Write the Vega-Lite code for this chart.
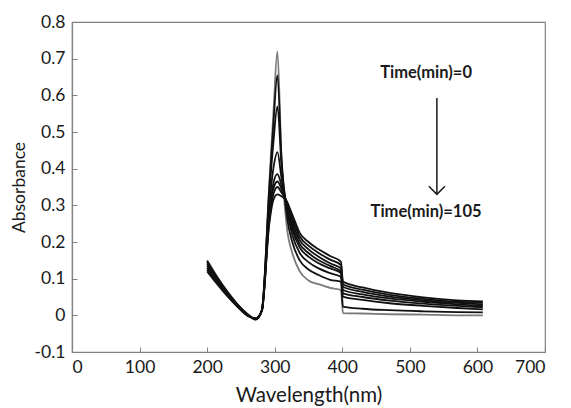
{
  "$schema": "https://vega.github.io/schema/vega-lite/v6.json",
  "width": 473,
  "height": 330,
  "autosize": {"type": "none"},
  "padding": {"left": 72, "top": 22, "right": 26, "bottom": 56},
  "background": "white",
  "config": {
    "locale": {"number": {"decimal": ".", "thousands": ",", "grouping": [3], "currency": ["$", ""], "minus": "-"}},
    "view": {"stroke": "#808080", "strokeWidth": 1.2},
    "font": "Lato",
    "axis": {
      "grid": false,
      "domainColor": "#808080",
      "domainWidth": 1.2,
      "tickColor": "#808080",
      "tickWidth": 1,
      "tickSize": -5,
      "labelFont": "Lato",
      "labelFontSize": 17.5,
      "labelColor": "#1a1a1a",
      "labelOverlap": false,
      "titleFont": "Lato",
      "titleFontWeight": "normal",
      "titleColor": "#1a1a1a"
    }
  },
  "datasets": {
    "spectra": [
      {"t":0,"wl":200,"a":0.15},{"t":0,"wl":215,"a":0.105},{"t":0,"wl":230,"a":0.065},{"t":0,"wl":245,"a":0.03},{"t":0,"wl":260,"a":0.003},{"t":0,"wl":272,"a":-0.012},{"t":0,"wl":281,"a":0.015},{"t":0,"wl":292,"a":0.36},{"t":0,"wl":298,"a":0.55},{"t":0,"wl":304,"a":0.72},{"t":0,"wl":310,"a":0.43},{"t":0,"wl":318,"a":0.24},{"t":0,"wl":326,"a":0.17},{"t":0,"wl":337,"a":0.12},{"t":0,"wl":350,"a":0.095},{"t":0,"wl":365,"a":0.085},{"t":0,"wl":382,"a":0.075},{"t":0,"wl":398,"a":0.069},{"t":0,"wl":401,"a":0.006},{"t":0,"wl":430,"a":0.005},{"t":0,"wl":470,"a":0.003},{"t":0,"wl":520,"a":0.002},{"t":0,"wl":570,"a":0.0},{"t":0,"wl":608,"a":0.0},
      {"t":15,"wl":200,"a":0.148},{"t":15,"wl":215,"a":0.103},{"t":15,"wl":230,"a":0.064},{"t":15,"wl":245,"a":0.03},{"t":15,"wl":260,"a":0.003},{"t":15,"wl":272,"a":-0.011},{"t":15,"wl":281,"a":0.015},{"t":15,"wl":292,"a":0.35},{"t":15,"wl":298,"a":0.52},{"t":15,"wl":304,"a":0.655},{"t":15,"wl":310,"a":0.43},{"t":15,"wl":318,"a":0.27},{"t":15,"wl":326,"a":0.2},{"t":15,"wl":337,"a":0.15},{"t":15,"wl":350,"a":0.125},{"t":15,"wl":365,"a":0.11},{"t":15,"wl":382,"a":0.097},{"t":15,"wl":398,"a":0.092},{"t":15,"wl":401,"a":0.024},{"t":15,"wl":430,"a":0.018},{"t":15,"wl":470,"a":0.014},{"t":15,"wl":520,"a":0.011},{"t":15,"wl":570,"a":0.009},{"t":15,"wl":608,"a":0.008},
      {"t":30,"wl":200,"a":0.145},{"t":30,"wl":215,"a":0.1},{"t":30,"wl":230,"a":0.062},{"t":30,"wl":245,"a":0.028},{"t":30,"wl":260,"a":0.002},{"t":30,"wl":272,"a":-0.011},{"t":30,"wl":281,"a":0.014},{"t":30,"wl":292,"a":0.33},{"t":30,"wl":298,"a":0.47},{"t":30,"wl":304,"a":0.57},{"t":30,"wl":310,"a":0.41},{"t":30,"wl":318,"a":0.29},{"t":30,"wl":326,"a":0.22},{"t":30,"wl":337,"a":0.17},{"t":30,"wl":350,"a":0.145},{"t":30,"wl":365,"a":0.128},{"t":30,"wl":382,"a":0.115},{"t":30,"wl":398,"a":0.105},{"t":30,"wl":401,"a":0.051},{"t":30,"wl":430,"a":0.042},{"t":30,"wl":470,"a":0.033},{"t":30,"wl":520,"a":0.026},{"t":30,"wl":570,"a":0.02},{"t":30,"wl":608,"a":0.016},
      {"t":45,"wl":200,"a":0.14},{"t":45,"wl":215,"a":0.097},{"t":45,"wl":230,"a":0.06},{"t":45,"wl":245,"a":0.027},{"t":45,"wl":260,"a":0.001},{"t":45,"wl":272,"a":-0.01},{"t":45,"wl":281,"a":0.014},{"t":45,"wl":292,"a":0.3},{"t":45,"wl":298,"a":0.4},{"t":45,"wl":304,"a":0.445},{"t":45,"wl":310,"a":0.375},{"t":45,"wl":318,"a":0.295},{"t":45,"wl":326,"a":0.235},{"t":45,"wl":337,"a":0.185},{"t":45,"wl":350,"a":0.16},{"t":45,"wl":365,"a":0.142},{"t":45,"wl":382,"a":0.128},{"t":45,"wl":398,"a":0.115},{"t":45,"wl":401,"a":0.06},{"t":45,"wl":430,"a":0.05},{"t":45,"wl":470,"a":0.04},{"t":45,"wl":520,"a":0.032},{"t":45,"wl":570,"a":0.026},{"t":45,"wl":608,"a":0.022},
      {"t":60,"wl":200,"a":0.135},{"t":60,"wl":215,"a":0.094},{"t":60,"wl":230,"a":0.058},{"t":60,"wl":245,"a":0.026},{"t":60,"wl":260,"a":0.0},{"t":60,"wl":272,"a":-0.01},{"t":60,"wl":281,"a":0.013},{"t":60,"wl":292,"a":0.28},{"t":60,"wl":298,"a":0.36},{"t":60,"wl":304,"a":0.385},{"t":60,"wl":310,"a":0.355},{"t":60,"wl":318,"a":0.3},{"t":60,"wl":326,"a":0.245},{"t":60,"wl":337,"a":0.195},{"t":60,"wl":350,"a":0.17},{"t":60,"wl":365,"a":0.15},{"t":60,"wl":382,"a":0.135},{"t":60,"wl":398,"a":0.119},{"t":60,"wl":401,"a":0.069},{"t":60,"wl":430,"a":0.057},{"t":60,"wl":470,"a":0.046},{"t":60,"wl":520,"a":0.037},{"t":60,"wl":570,"a":0.03},{"t":60,"wl":608,"a":0.026},
      {"t":75,"wl":200,"a":0.13},{"t":75,"wl":215,"a":0.09},{"t":75,"wl":230,"a":0.056},{"t":75,"wl":245,"a":0.025},{"t":75,"wl":260,"a":0.0},{"t":75,"wl":272,"a":-0.009},{"t":75,"wl":281,"a":0.013},{"t":75,"wl":292,"a":0.27},{"t":75,"wl":298,"a":0.345},{"t":75,"wl":304,"a":0.365},{"t":75,"wl":310,"a":0.345},{"t":75,"wl":318,"a":0.305},{"t":75,"wl":326,"a":0.255},{"t":75,"wl":337,"a":0.205},{"t":75,"wl":350,"a":0.18},{"t":75,"wl":365,"a":0.16},{"t":75,"wl":382,"a":0.142},{"t":75,"wl":398,"a":0.128},{"t":75,"wl":401,"a":0.078},{"t":75,"wl":430,"a":0.064},{"t":75,"wl":470,"a":0.051},{"t":75,"wl":520,"a":0.041},{"t":75,"wl":570,"a":0.034},{"t":75,"wl":608,"a":0.03},
      {"t":90,"wl":200,"a":0.125},{"t":90,"wl":215,"a":0.087},{"t":90,"wl":230,"a":0.054},{"t":90,"wl":245,"a":0.024},{"t":90,"wl":260,"a":-0.001},{"t":90,"wl":272,"a":-0.009},{"t":90,"wl":281,"a":0.012},{"t":90,"wl":292,"a":0.26},{"t":90,"wl":298,"a":0.33},{"t":90,"wl":304,"a":0.35},{"t":90,"wl":310,"a":0.335},{"t":90,"wl":318,"a":0.31},{"t":90,"wl":326,"a":0.265},{"t":90,"wl":337,"a":0.215},{"t":90,"wl":350,"a":0.19},{"t":90,"wl":365,"a":0.17},{"t":90,"wl":382,"a":0.152},{"t":90,"wl":398,"a":0.137},{"t":90,"wl":401,"a":0.085},{"t":90,"wl":430,"a":0.07},{"t":90,"wl":470,"a":0.056},{"t":90,"wl":520,"a":0.045},{"t":90,"wl":570,"a":0.037},{"t":90,"wl":608,"a":0.034},
      {"t":105,"wl":200,"a":0.12},{"t":105,"wl":215,"a":0.085},{"t":105,"wl":230,"a":0.052},{"t":105,"wl":245,"a":0.023},{"t":105,"wl":260,"a":-0.002},{"t":105,"wl":272,"a":-0.008},{"t":105,"wl":281,"a":0.012},{"t":105,"wl":292,"a":0.25},{"t":105,"wl":298,"a":0.315},{"t":105,"wl":304,"a":0.33},{"t":105,"wl":310,"a":0.325},{"t":105,"wl":318,"a":0.31},{"t":105,"wl":326,"a":0.275},{"t":105,"wl":337,"a":0.225},{"t":105,"wl":350,"a":0.2},{"t":105,"wl":365,"a":0.18},{"t":105,"wl":382,"a":0.162},{"t":105,"wl":398,"a":0.146},{"t":105,"wl":401,"a":0.092},{"t":105,"wl":430,"a":0.076},{"t":105,"wl":470,"a":0.061},{"t":105,"wl":520,"a":0.049},{"t":105,"wl":570,"a":0.041},{"t":105,"wl":608,"a":0.038}
    ],
    "labels": [
      {"wl": 524, "a": 0.661, "label": "Time(min)=0"},
      {"wl": 524, "a": 0.282, "label": "Time(min)=105"}
    ],
    "arrow": [
      {"wl": 540, "a": 0.593, "a2": 0.33}
    ],
    "head": [
      {"wl": 540, "a": 0.33}
    ]
  },
  "layer": [
    {
      "data": {"name": "spectra"},
      "mark": {"type": "line", "strokeWidth": 1.8, "interpolate": "monotone"},
      "encoding": {
        "x": {
          "field": "wl", "type": "quantitative",
          "scale": {"domain": [0, 700], "nice": false, "zero": false},
          "axis": {
            "title": "Wavelength(nm)",
            "values": [0, 100, 200, 300, 400, 500, 600, 700],
            "tickCount": 20,
            "labelOverlap": false,
            "labelPadding": 11,
            "titlePadding": 10,
            "titleFontSize": 20.5
          }
        },
        "y": {
          "field": "a", "type": "quantitative",
          "scale": {"domain": [-0.1, 0.8], "nice": false, "zero": false},
          "axis": {
            "title": "Absorbance",
            "values": [-0.1, 0, 0.1, 0.2, 0.3, 0.4, 0.5, 0.6, 0.7, 0.8],
            "tickCount": 20,
            "format": "~g",
            "labelOverlap": false,
            "labelBound": false,
            "labelPadding": 12,
            "titlePadding": 6,
            "titleFontSize": 17.5
          }
        },
        "color": {
          "field": "t", "type": "nominal",
          "scale": {"domain": [0, 15, 30, 45, 60, 75, 90, 105], "range": ["#7a7a7a", "#111111", "#111111", "#111111", "#111111", "#111111", "#111111", "#111111"]},
          "legend": null
        }
      }
    },
    {
      "data": {"name": "labels"},
      "mark": {"type": "text", "font": "Lato", "fontSize": 16.5, "fontWeight": "bold", "color": "#1a1a1a", "align": "center", "baseline": "middle"},
      "encoding": {
        "x": {"field": "wl", "type": "quantitative"},
        "y": {"field": "a", "type": "quantitative"},
        "text": {"field": "label"}
      }
    },
    {
      "data": {"name": "arrow"},
      "mark": {"type": "rule", "color": "#1a1a1a", "strokeWidth": 1.5},
      "encoding": {
        "x": {"field": "wl", "type": "quantitative"},
        "y": {"field": "a", "type": "quantitative"},
        "y2": {"field": "a2"}
      }
    },
    {
      "data": {"name": "head"},
      "mark": {"type": "point", "shape": "M-1,-1L0,0L1,-1", "filled": false, "size": 256, "stroke": "#1a1a1a", "strokeWidth": 1.5, "opacity": 1},
      "encoding": {
        "x": {"field": "wl", "type": "quantitative"},
        "y": {"field": "a", "type": "quantitative"}
      }
    }
  ]
}
